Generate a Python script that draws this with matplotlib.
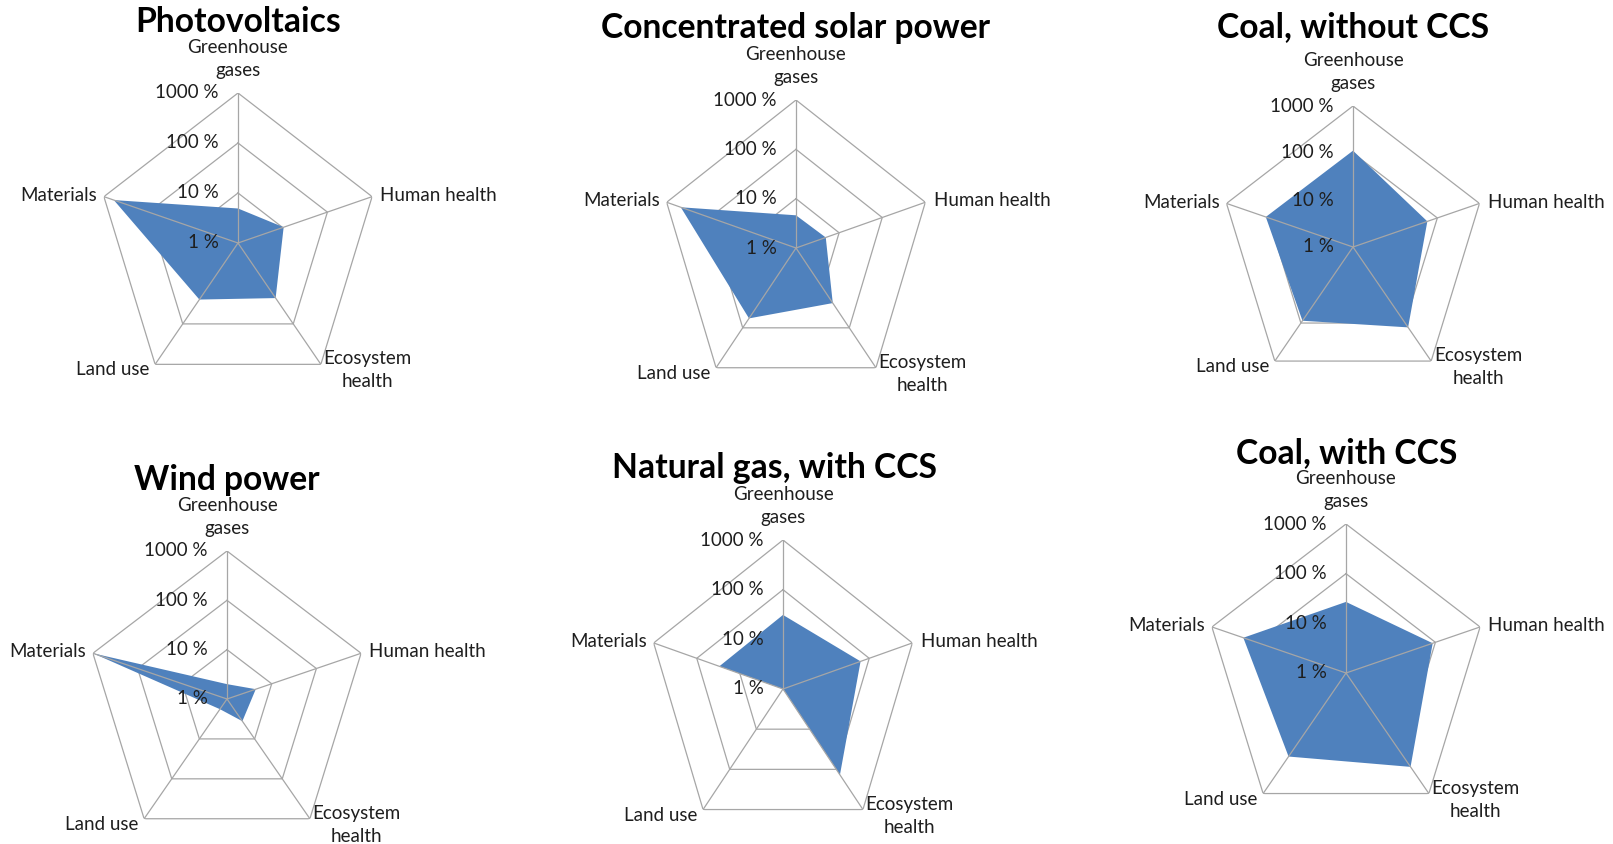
import numpy as np
import matplotlib.pyplot as plt

plt.rcParams['font.family'] = ['Lato', 'DejaVu Sans']

# axes of every radar, clockwise from the top
categories = ["Greenhouse\ngases", "Human health", "Ecosystem\nhealth", "Land use", "Materials"]
ring_labels = ["1 %", "10 %", "100 %", "1000 %"]

# values in percent, same order as categories
photovoltaics = [4.9, 10.5, 23, 25, 600]
csp = [4.6, 4.9, 24, 58, 470]
coal_no_ccs = [112, 58, 130, 87, 117]
wind = [2.0, 4.4, 3.6, 1.8, 1000]
gas_ccs = [31, 63, 137, 1.0, 30]
coal_ccs = [27, 87, 217, 120, 198]

titles = ["Photovoltaics", "Concentrated solar power", "Coal, without CCS",
          "Wind power", "Natural gas, with CCS", "Coal, with CCS"]
series = [photovoltaics, csp, coal_no_ccs, wind, gas_ccs, coal_ccs]

W, H = 1613, 844
# chart centre (px), vertical radius, horizontal radius, title position (px)
layout = [
    (238, 243, 150, 141, 238, 22),
    (796, 248, 148, 136, 796, 28),
    (1353, 247, 141, 133, 1353, 27),
    (227, 699, 148, 141, 227, 480),
    (783, 689, 149, 136, 775, 468),
    (1346, 673, 149, 141, 1347, 453),
]

BLUE = '#4F81BD'
GRID = '#A6A6A6'
TXT = '#1E1E1E'

fig = plt.figure(figsize=(W / 100, H / 100), dpi=100)

n = len(categories)
angles = np.arange(n) * 2 * np.pi / n
closed = np.append(angles, angles[0])

lab_pos = [
    dict(xytext=(0, 10), ha='center', va='bottom'),
    dict(xytext=(6, 1), ha='left', va='center'),
    dict(xytext=(2, 10), ha='left', va='top'),
    dict(xytext=(-4, -4), ha='right', va='center'),
    dict(xytext=(-5, 1), ha='right', va='center'),
]

for (cx, cy, r, rx, tx, ty), title, vals in zip(layout, titles, series):
    ax = fig.add_axes([(cx - rx) / W, 1 - (cy + r) / H, 2 * rx / W, 2 * r / H],
                      projection='polar')
    ax.set_aspect('auto')
    ax.set_theta_offset(np.pi / 2)
    ax.set_theta_direction(-1)
    ax.set_ylim(0, 3)
    ax.grid(False)
    ax.spines['polar'].set_visible(False)
    ax.set_xticks([])
    ax.set_yticks([])
    ax.patch.set_alpha(0)

    # pentagon rings
    for lv in [1, 2, 3]:
        ax.plot(closed, [lv] * (n + 1), color=GRID, lw=0.9, zorder=1)

    logv = np.log10(np.array(vals))
    ax.fill(closed, np.append(logv, logv[0]), color=BLUE, lw=0, zorder=2)

    # spokes
    for a in angles:
        ax.plot([a, a], [0, 3], color=GRID, lw=0.9, zorder=3)

    for i, lab in enumerate(ring_labels):
        ax.annotate(lab, xy=(0, i), xytext=(-14, 0), textcoords='offset points',
                    ha='right', va='center', fontsize=13.5, color=TXT,
                    annotation_clip=False, zorder=4)

    for a, cat, kw in zip(angles, categories, lab_pos):
        ax.annotate(cat, xy=(a, 3), textcoords='offset points', fontsize=13.5,
                    color=TXT, multialignment='center', linespacing=1.42,
                    annotation_clip=False, **kw)

    fig.text(tx / W, 1 - ty / H, title, ha='center', va='center',
             fontsize=24.2, fontweight='bold', color='black')

fig.savefig('out.png', dpi=100)
